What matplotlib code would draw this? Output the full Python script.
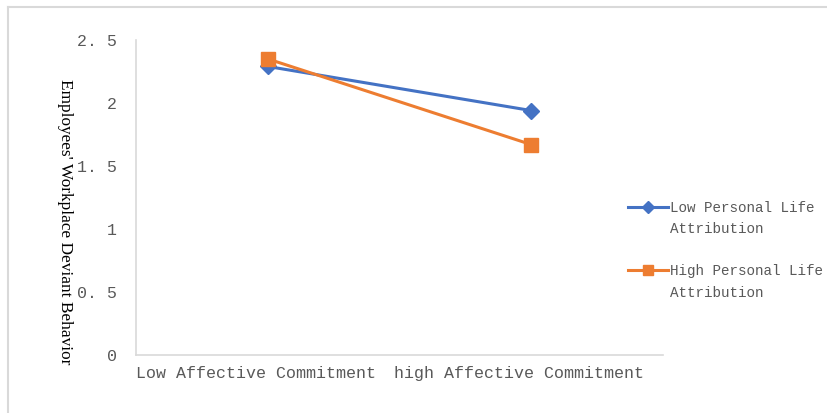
import matplotlib.pyplot as plt
import matplotlib.transforms as mtransforms
from matplotlib.lines import Line2D

categories = ["Low Affective Commitment", "high Affective Commitment"]
low_life = [2.29, 1.94]
high_life = [2.35, 1.67]
series_names = ["Low Personal Life", "High Personal Life"]
series_second_line = "Attribution"
y_ticks = [0, 0.5, 1, 1.5, 2, 2.5]
y_tick_labels = ["0", "0. 5", "1", "1. 5", "2", "2. 5"]

mono = "Liberation Mono"
grey_text = "#595959"
axis_grey = "#d9d9d9"
blue = "#4472C4"
orange = "#ED7D31"

fig = plt.figure(figsize=(8.28, 4.13), dpi=100)
ax = fig.add_axes([136 / 828, 58 / 413, 527 / 828, 315 / 413])

x = range(len(categories))
ax.plot(x, low_life, color=blue, lw=2.2, marker="D", ms=8.5)
ax.plot(x, high_life, color=orange, lw=2.2, marker="s", ms=10)

ax.set_xlim(-0.5, 1.5)
ax.set_ylim(0, 2.5)
ax.set_xticks(list(x))
ax.set_xticklabels(categories, fontfamily=mono, fontsize=12, color=grey_text)
ax.set_yticks(y_ticks)
ax.set_yticklabels(y_tick_labels, fontfamily=mono, fontsize=12, color=grey_text)
ax.tick_params(length=0, pad=8)
ax.tick_params(axis="y", pad=14)
shift = mtransforms.ScaledTranslation(-12 / 100, 0, fig.dpi_scale_trans)
for lab in ax.get_xticklabels():
    lab.set_transform(lab.get_transform() + shift)

for side in ["top", "right"]:
    ax.spines[side].set_visible(False)
for side in ["left", "bottom"]:
    ax.spines[side].set_color(axis_grey)
    ax.spines[side].set_linewidth(1.2)

fig.text(65 / 828, 1 - 222 / 413, "Employees' Workplace Deviant Behavior",
         rotation=-90, ha="center", va="center", fontsize=12.4,
         fontfamily="Liberation Serif", color="black")

# legend: handle sits on the first line of each two-line label
h1 = Line2D([], [], color=blue, lw=2.2, marker="D", ms=6)
h2 = Line2D([], [], color=orange, lw=2.2, marker="s", ms=7)
blank = Line2D([], [], alpha=0)
handles = [h1, blank, blank, h2, blank]
labels = [series_names[0], series_second_line, "", series_names[1], series_second_line]
leg = fig.legend(handles, labels, loc="upper left",
                 bbox_to_anchor=(628 / 828, 1 - 201 / 413),
                 frameon=False, prop={"family": mono, "size": 10.3},
                 handlelength=2.8, labelspacing=0.5, handletextpad=0.15,
                 borderpad=0, borderaxespad=0)
for t in leg.get_texts():
    t.set_color(grey_text)

# chart area border (cut off on the right and bottom)
fig.add_artist(Line2D([8 / 828, 8 / 828], [0, 1 - 7 / 413], color=axis_grey, lw=1.5))
fig.add_artist(Line2D([8 / 828, 1], [1 - 7 / 413, 1 - 7 / 413], color=axis_grey, lw=1.5))

fig.savefig("out.png", dpi=100)
